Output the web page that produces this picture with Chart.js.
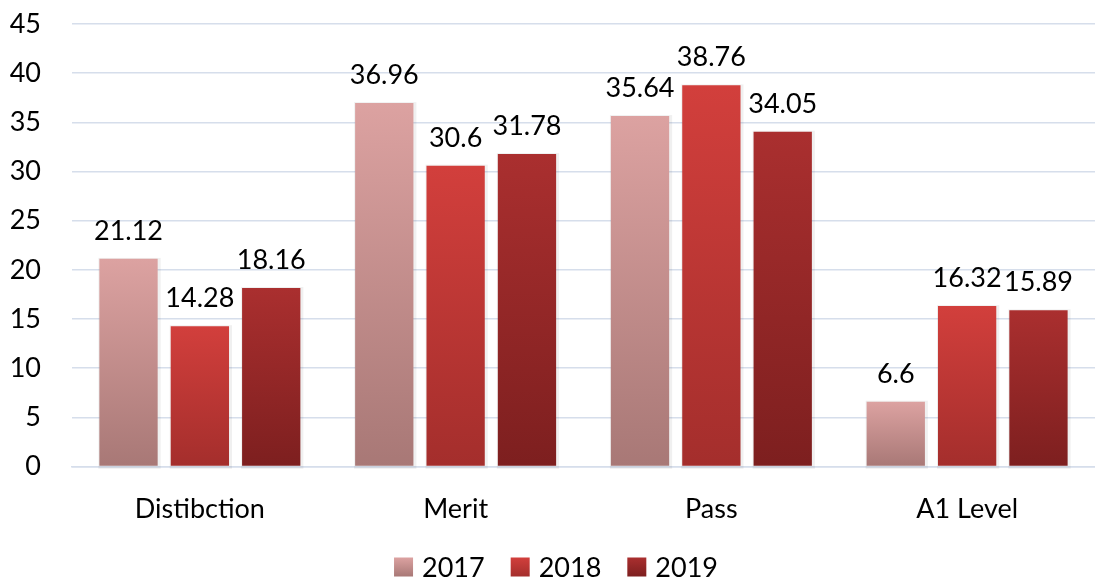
<!DOCTYPE html>
<html><head><meta charset="utf-8">
<script src="https://cdn.jsdelivr.net/npm/chart.js@4.4.1/dist/chart.umd.min.js"></script>
<style>html,body{margin:0;padding:0;background:#fff}#wrap{width:1095px;height:579px}</style>
</head><body><div id="wrap"><canvas id="c" width="1095" height="579"></canvas></div>
<script>
const categories = ["Distibction", "Merit", "Pass", "A1 Level"];
const seriesNames = ["2017", "2018", "2019"];
const values2017 = [21.12, 36.96, 35.64, 6.6];
const values2018 = [14.28, 30.6, 38.76, 16.32];
const values2019 = [18.16, 31.78, 34.05, 15.89];
const yTicks = [0, 5, 10, 15, 20, 25, 30, 35, 40, 45];

const gradStops = [
  ["#DCA2A1", "#A87876"],
  ["#D23F3C", "#A42E2C"],
  ["#AA2F2F", "#7D1F1F"]
];
const FONT = "Lato, 'Open Sans', sans-serif";
const FSIZE = 27;

function barGradient(si) {
  return function(ctx) {
    const chart = ctx.chart;
    if (!chart.chartArea || ctx.type !== 'data') return gradStops[si][0];
    const y = chart.scales.y;
    const top = y.getPixelForValue(ctx.raw);
    const bot = y.getPixelForValue(0);
    const g = chart.ctx.createLinearGradient(0, top, 0, bot);
    g.addColorStop(0, gradStops[si][0]);
    g.addColorStop(1, gradStops[si][1]);
    return g;
  };
}

const allValues = [values2017, values2018, values2019];

const labelPlugin = {
  id: 'vlabels',
  afterDatasetsDraw(chart) {
    const ctx = chart.ctx;
    ctx.save();
    ctx.font = FSIZE + "px " + FONT;
    ctx.fillStyle = "#000";
    ctx.textAlign = "center";
    ctx.textBaseline = "alphabetic";
    chart.data.datasets.forEach((ds, i) => {
      chart.getDatasetMeta(i).data.forEach((el, j) => {
        ctx.fillText(String(ds.data[j]), el.x, el.y - 19);
      });
    });
    ctx.restore();
  }
};

const shadowPlugin = {
  id: 'barshadow',
  beforeDatasetsDraw(chart) {
    const ctx = chart.ctx;
    ctx.save();
    chart.data.datasets.forEach((ds, i) => {
      chart.getDatasetMeta(i).data.forEach((el) => {
        const w = el.width;
        ctx.fillStyle = "rgba(0,0,0,0.06)";
        ctx.fillRect(el.x - w/2 - 1, el.y - 1, w + 4, el.base - el.y + 4);
      });
    });
    ctx.restore();
  }
};

const legendPlugin = {
  id: 'customLegend',
  afterDraw(chart) {
    const ctx = chart.ctx;
    ctx.save();
    ctx.font = FSIZE + "px " + FONT;
    const box = 19, gapBoxText = 9, gapItems = 26;
    const widths = seriesNames.map(n => ctx.measureText(n).width);
    let total = 0;
    widths.forEach((w, i) => { total += box + gapBoxText + w + (i < widths.length - 1 ? gapItems : 0); });
    let x = 556 - total / 2;
    const cy = 567;
    seriesNames.forEach((n, i) => {
      const g = ctx.createLinearGradient(0, cy - box/2, 0, cy + box/2);
      g.addColorStop(0, gradStops[i][0]);
      g.addColorStop(1, gradStops[i][1]);
      ctx.fillStyle = g;
      ctx.fillRect(x, cy - box/2, box, box);
      ctx.fillStyle = "#000";
      ctx.textBaseline = "middle";
      ctx.textAlign = "left";
      ctx.fillText(n, x + box + gapBoxText, cy + 1);
      x += box + gapBoxText + widths[i] + gapItems;
    });
    ctx.restore();
  }
};

new Chart(document.getElementById('c'), {
  type: 'bar',
  data: {
    labels: categories,
    datasets: seriesNames.map((n, i) => ({
      label: n,
      data: allValues[i],
      backgroundColor: barGradient(i),
      borderWidth: 0,
      categoryPercentage: 0.837,
      barPercentage: 0.817
    }))
  },
  options: {
    responsive: false,
    animation: false,
    devicePixelRatio: 1,
    layout: { padding: { top: 24, right: -7, left: 10, bottom: 28 } },
    scales: {
      x: {
        grid: { display: false, drawTicks: false },
        border: { display: true, color: "#D6DEEB", width: 1.5 },
        ticks: { color: "#000", font: { family: FONT, size: FSIZE }, padding: 26 },
        afterFit(axis) { axis.paddingLeft = 0; axis.paddingRight = 0; }
      },
      y: {
        min: 0, max: 45,
        afterBuildTicks(axis) { axis.ticks = yTicks.map(v => ({ value: v })); },
        afterFit(axis) { axis.width = 62; axis.paddingTop = 0; axis.paddingBottom = 0; },
        grid: { color: "#D6DEEB", lineWidth: 1.5, drawTicks: false },
        border: { display: false },
        ticks: { color: "#000", font: { family: FONT, size: FSIZE }, padding: 31 }
      }
    },
    plugins: {
      tooltip: { enabled: false },
      legend: { display: false }
    }
  },
  plugins: [shadowPlugin, labelPlugin, legendPlugin]
});
</script>
</body></html>
